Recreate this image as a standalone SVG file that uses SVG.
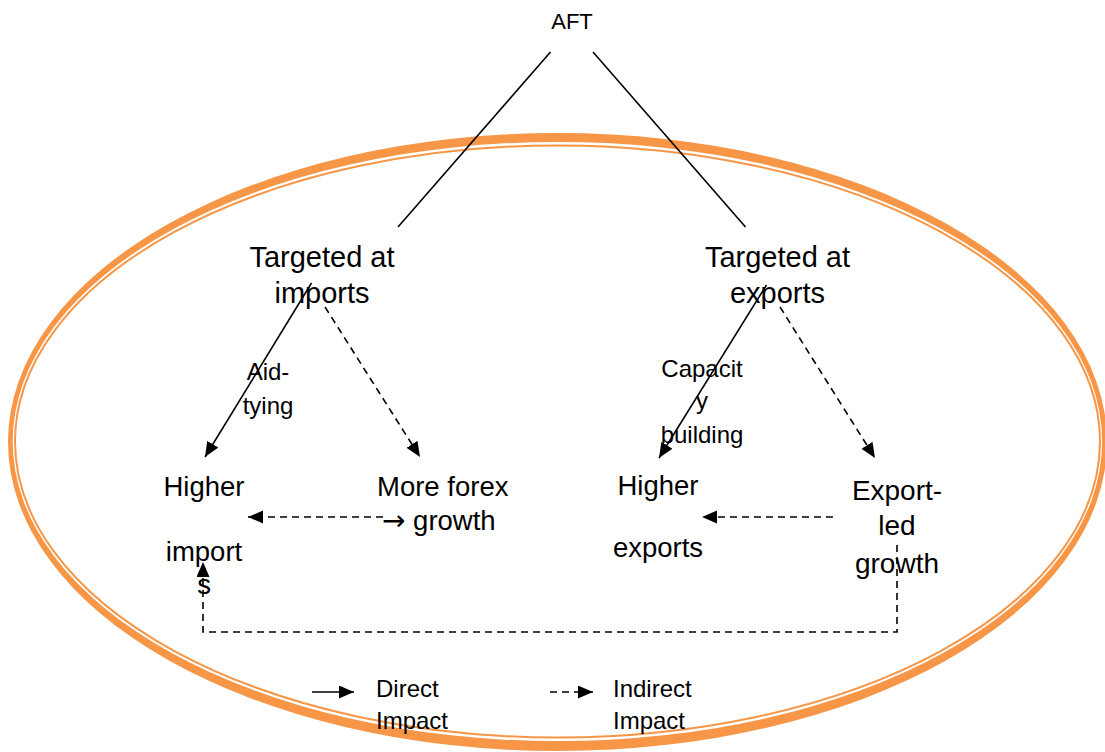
<svg xmlns="http://www.w3.org/2000/svg" width="1105" height="752" viewBox="0 0 1105 752">
<defs>
<style>
text{font-family:"Liberation Sans",Arial,sans-serif;fill:#000}
.big{font-size:29px;text-anchor:middle}
.mid{font-size:27.5px}
.lab{font-size:24px;text-anchor:middle}
.leg{font-size:24px}
.c{text-anchor:middle}
.ln{stroke:#000;stroke-width:1.6;fill:none}
.dash{stroke-dasharray:7 5}
</style>
<marker id="ah" markerUnits="userSpaceOnUse" markerWidth="16" markerHeight="14" refX="15" refY="6.5" orient="auto">
<path d="M0,0 L15,6.5 L0,13 z" fill="#000"/>
</marker>
</defs>
<rect width="1105" height="752" fill="#fff"/>
<g id="frame">
<path fill="#F79646" fill-rule="evenodd" d="M8,442 A549.5,309 0 1 0 1107,442 A549.5,309 0 1 0 8,442 Z M12.7,441.5 A544.7,299.5 0 1 0 1102.1,441.5 A544.7,299.5 0 1 0 12.7,441.5 Z"/>
<ellipse cx="557.5" cy="441.5" rx="542.5" ry="296" fill="none" stroke="#F79646" stroke-width="2"/>
</g>
<g id="connectors">
<line class="ln" x1="550.5" y1="52" x2="398" y2="227"/>
<line class="ln" x1="593" y1="52" x2="745.5" y2="227"/>
<line class="ln" x1="311.5" y1="283" x2="205" y2="457" marker-end="url(#ah)"/>
<line class="ln dash" x1="325" y1="307" x2="420" y2="457" marker-end="url(#ah)"/>
<line class="ln" x1="766.5" y1="285" x2="659" y2="458" marker-end="url(#ah)"/>
<line class="ln dash" x1="780" y1="307" x2="875" y2="458" marker-end="url(#ah)"/>
<line class="ln dash" x1="383" y1="517" x2="248" y2="517" marker-end="url(#ah)"/>
<line class="ln dash" x1="833" y1="517" x2="702" y2="517" marker-end="url(#ah)"/>
<polyline class="ln dash" points="897,545 897,632 203,632 203,562" marker-end="url(#ah)"/>
<line class="ln" x1="312" y1="692" x2="354" y2="692" marker-end="url(#ah)"/>
<line class="ln dash" x1="550" y1="692" x2="593" y2="692" marker-end="url(#ah)"/>
</g>
<g id="node-aft"><text x="572" y="29" style="font-size:22px" class="c">AFT</text></g>
<g id="node-imports"><text class="big" x="322" y="267">Targeted at</text><text class="big" x="322" y="303">imports</text></g>
<g id="node-exports"><text class="big" x="777.5" y="267">Targeted at</text><text class="big" x="777.5" y="303">exports</text></g>
<g id="label-aid"><text class="lab" x="268" y="380">Aid-</text><text class="lab" x="268" y="414">tying</text></g>
<g id="label-capacity"><text class="lab" x="702" y="377">Capacit</text><text class="lab" x="702" y="409">y</text><text class="lab" x="702" y="443">building</text></g>
<g id="node-higher-imports"><text class="mid c" x="204" y="496">Higher</text><text class="mid c" x="204" y="561">import</text><text class="mid c" x="204" y="594">s</text></g>
<g id="node-forex"><text class="mid" x="377" y="496">More forex</text><text class="mid" x="382" y="530"><tspan style="font-family:'DejaVu Sans',sans-serif;font-size:28px">→</tspan> growth</text></g>
<g id="node-higher-exports"><text class="mid c" x="658" y="495">Higher</text><text class="mid c" x="658" y="557">exports</text></g>
<g id="node-export-led"><text class="mid c" style="font-size:28px" x="897" y="500">Export-</text><text class="mid c" style="font-size:28px" x="897" y="535">led</text><text class="mid c" style="font-size:28px" x="897" y="573">growth</text></g>
<g id="legend"><text class="leg" x="376" y="697">Direct</text><text class="leg" x="376" y="729">Impact</text><text class="leg" x="613" y="697">Indirect</text><text class="leg" x="613" y="729">Impact</text></g>
</svg>
